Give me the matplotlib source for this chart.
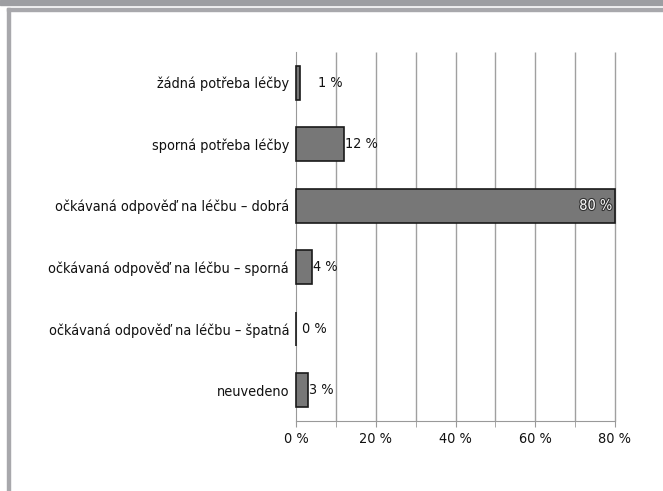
import matplotlib
matplotlib.use("Agg")
import matplotlib.pyplot as plt
import matplotlib.patheffects as pe
from matplotlib.patches import Rectangle

categories = [
    "žádná potřeba léčby",
    "sporná potřeba léčby",
    "očkávaná odpověď na léčbu – dobrá",
    "očkávaná odpověď na léčbu – sporná",
    "očkávaná odpověď na léčbu – špatná",
    "neuvedeno",
]
values = [1, 12, 80, 4, 0, 3]
x_ticks = [0, 20, 40, 60, 80]
grid_steps = [10, 20, 30, 40, 50, 60, 70, 80]
# horizontal nudge of each value label, in points
label_dx = [13, 1, -2, 1, 4, 1]

plt.rcParams["font.family"] = ["DejaVu Sans"]
plt.rcParams["font.stretch"] = "condensed"

fig = plt.figure(figsize=(6.63, 4.91), dpi=100)

# page frame
fig.patches.append(Rectangle((0, 1 - 5/491), 1, 5/491, transform=fig.transFigure,
                             color="#9d9ea2", zorder=0))
fig.patches.append(Rectangle((7/663, 1 - 11/491), 1, 3/491, transform=fig.transFigure,
                             color="#a8a8ac", zorder=0))
fig.patches.append(Rectangle((7/663, 0), 3/663, 1 - 8/491, transform=fig.transFigure,
                             color="#a8a8ac", zorder=0))

ax = fig.add_axes([296/663, 1 - 421/491, (615 - 296)/663, (421 - 52)/491])
y = list(range(len(categories)))[::-1]
bars = ax.barh(y, values, height=0.55, color="#777777", edgecolor="#1a1a1a",
               linewidth=1.2, zorder=3)
for b in bars:
    b.set_clip_on(False)

ax.set_xlim(0, 80)
ax.set_ylim(-0.5, len(categories) - 0.5)
ax.set_yticks(y)
ax.set_yticklabels(categories, fontsize=10.4)
ax.set_xticks(x_ticks)
ax.set_xticklabels([f"{v} %" for v in x_ticks], fontsize=10.4)
ax.set_xticks(grid_steps, minor=True)
ax.tick_params(axis="y", length=0, pad=5, colors="#111111")
ax.tick_params(axis="x", which="both", length=4, pad=4, colors="#111111")
ax.tick_params(axis="x", which="both", color="#999999")

# vertical gridlines, unclipped so the last one shows in full
ax.vlines(grid_steps, -0.5, len(categories) - 0.5, color="#a0a0a0", linewidth=1,
          zorder=0, clip_on=False)
for s in ["top", "right"]:
    ax.spines[s].set_visible(False)
for s in ["left", "bottom"]:
    ax.spines[s].set_color("#999999")

for yi, v, dx in zip(y, values, label_dx):
    if v >= 50:
        ax.annotate(f"{v} %", (v, yi), xytext=(dx, 0), textcoords="offset points",
                    ha="right", va="center", fontsize=10.4, color="white", zorder=4,
                    path_effects=[pe.withStroke(linewidth=1.6, foreground="#333333")])
    else:
        ax.annotate(f"{v} %", (v, yi), xytext=(dx, 0), textcoords="offset points",
                    ha="left", va="center", fontsize=10.4, color="#111111", zorder=4)

fig.savefig("out.png", dpi=100)
